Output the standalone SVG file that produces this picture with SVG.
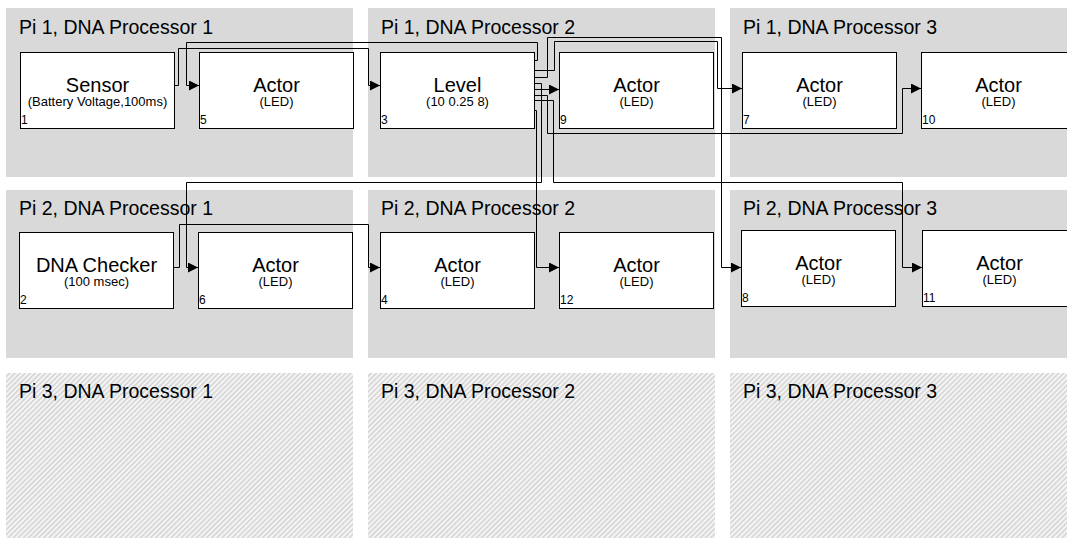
<svg xmlns="http://www.w3.org/2000/svg" width="1067" height="538" viewBox="0 0 1067 538">
<style>
.panel{fill:#d9d9d9;stroke:none}
.hatched{fill:url(#hatch);stroke:none}
.title{font-family:"Liberation Sans",Arial,sans-serif;font-size:19.5px;fill:#000}
.box{fill:#fff;stroke:#000;stroke-width:1}
.main{font-family:"Liberation Sans",Arial,sans-serif;font-size:20px;fill:#000;text-anchor:middle}
.sub{font-family:"Liberation Sans",Arial,sans-serif;font-size:13px;fill:#000;text-anchor:middle}
.nid{font-family:"Liberation Sans",Arial,sans-serif;font-size:12px;fill:#000}
.conn path{fill:none;stroke:#000;stroke-width:1;marker-end:url(#arr)}
</style>
<defs>
<marker id="arr" markerUnits="userSpaceOnUse" markerWidth="10" markerHeight="10" refX="10" refY="5" orient="auto">
<path d="M0,0 L10,5 L0,10 z" fill="#000"/>
</marker>
<pattern id="hatch" patternUnits="userSpaceOnUse" width="3.6" height="3.6" patternTransform="rotate(45)">
<rect width="3.6" height="3.6" fill="#f5f5f5"/>
<rect width="1.6" height="3.6" fill="#d4d4d4"/>
</pattern>
</defs>

<g id="panels">
<rect class="panel" x="6" y="8" width="347" height="169"/>
<rect class="panel" x="368" y="8" width="347" height="169"/>
<rect class="panel" x="730" y="8" width="347" height="169"/>
<rect class="panel" x="6" y="190" width="347" height="168"/>
<rect class="panel" x="368" y="190" width="347" height="168"/>
<rect class="panel" x="730" y="190" width="347" height="168"/>
<rect class="hatched" x="6" y="373" width="347" height="170"/>
<rect class="hatched" x="368" y="373" width="347" height="170"/>
<rect class="hatched" x="730" y="373" width="347" height="170"/>
<text class="title" x="19" y="34">Pi 1, DNA Processor 1</text>
<text class="title" x="381" y="34">Pi 1, DNA Processor 2</text>
<text class="title" x="743" y="34">Pi 1, DNA Processor 3</text>
<text class="title" x="19" y="215">Pi 2, DNA Processor 1</text>
<text class="title" x="381" y="215">Pi 2, DNA Processor 2</text>
<text class="title" x="743" y="215">Pi 2, DNA Processor 3</text>
<text class="title" x="19" y="398">Pi 3, DNA Processor 1</text>
<text class="title" x="381" y="398">Pi 3, DNA Processor 2</text>
<text class="title" x="743" y="398">Pi 3, DNA Processor 3</text>
</g>

<g id="node1">
<rect class="box" x="20.5" y="52.5" width="154" height="76"/>
<text class="main" x="97.5" y="92">Sensor</text>
<text class="sub" x="97.5" y="106">(Battery Voltage,100ms)</text>
<text class="nid" x="21" y="124">1</text>
</g>
<g id="node5">
<rect class="box" x="199.5" y="52.5" width="154" height="76"/>
<text class="main" x="276.5" y="92">Actor</text>
<text class="sub" x="276.5" y="106">(LED)</text>
<text class="nid" x="200" y="124">5</text>
</g>
<g id="node3">
<rect class="box" x="380.5" y="52.5" width="154" height="76"/>
<text class="main" x="457.5" y="92">Level</text>
<text class="sub" x="457.5" y="106">(10 0.25 8)</text>
<text class="nid" x="381" y="124">3</text>
</g>
<g id="node9">
<rect class="box" x="559.5" y="52.5" width="154" height="76"/>
<text class="main" x="636.5" y="92">Actor</text>
<text class="sub" x="636.5" y="106">(LED)</text>
<text class="nid" x="560" y="124">9</text>
</g>
<g id="node7">
<rect class="box" x="742.5" y="52.5" width="154" height="76"/>
<text class="main" x="819.5" y="92">Actor</text>
<text class="sub" x="819.5" y="106">(LED)</text>
<text class="nid" x="743" y="124">7</text>
</g>
<g id="node10">
<rect class="box" x="921.5" y="52.5" width="154" height="76"/>
<text class="main" x="998.5" y="92">Actor</text>
<text class="sub" x="998.5" y="106">(LED)</text>
<text class="nid" x="922" y="124">10</text>
</g>
<g id="node2">
<rect class="box" x="19.5" y="232.5" width="154" height="76"/>
<text class="main" x="96.5" y="272">DNA Checker</text>
<text class="sub" x="96.5" y="286">(100 msec)</text>
<text class="nid" x="20" y="304">2</text>
</g>
<g id="node6">
<rect class="box" x="198.5" y="232.5" width="154" height="76"/>
<text class="main" x="275.5" y="272">Actor</text>
<text class="sub" x="275.5" y="286">(LED)</text>
<text class="nid" x="199" y="304">6</text>
</g>
<g id="node4">
<rect class="box" x="380.5" y="232.5" width="154" height="76"/>
<text class="main" x="457.5" y="272">Actor</text>
<text class="sub" x="457.5" y="286">(LED)</text>
<text class="nid" x="381" y="304">4</text>
</g>
<g id="node12">
<rect class="box" x="559.5" y="232.5" width="154" height="76"/>
<text class="main" x="636.5" y="272">Actor</text>
<text class="sub" x="636.5" y="286">(LED)</text>
<text class="nid" x="560" y="304">12</text>
</g>
<g id="node8">
<rect class="box" x="741.5" y="230.5" width="154" height="76"/>
<text class="main" x="818.5" y="270">Actor</text>
<text class="sub" x="818.5" y="284">(LED)</text>
<text class="nid" x="742" y="302">8</text>
</g>
<g id="node11">
<rect class="box" x="922.5" y="230.5" width="154" height="76"/>
<text class="main" x="999.5" y="270">Actor</text>
<text class="sub" x="999.5" y="284">(LED)</text>
<text class="nid" x="923" y="302">11</text>
</g>

<g id="connectors" class="conn">
<path d="M174.5,85.5 H178.5 V48.5 H368.5 V85.5 H380"/>
<path d="M534.5,60.5 H537.5 V42.5 H186.5 V85.5 H199"/>
<path d="M173.5,267.5 H179.5 V224.5 H368.5 V267.5 H380"/>
<path d="M534.5,83.5 H541.5 V182.5 H186.5 V267.5 H198"/>
<path d="M534.5,110.5 H536.5 V267.5 H559"/>
<path d="M534.5,89.5 H559"/>
<path d="M534.5,70.5 H554.5 V41.5 H717.5 V88.5 H742"/>
<path d="M534.5,77.5 H547.5 V37.5 H721.5 V267.5 H741"/>
<path d="M534.5,95.5 H547.5 V133.5 H902.5 V88.5 H921"/>
<path d="M534.5,100.5 H553.5 V182.5 H902.5 V267.5 H922"/>
</g>
</svg>
